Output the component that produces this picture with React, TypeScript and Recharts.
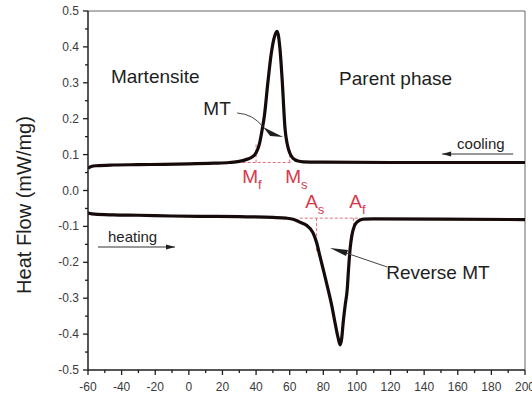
import React from 'react';
import { LineChart, Line, XAxis, YAxis, ReferenceLine, ReferenceDot } from 'recharts';

// DSC scan on cooling (upper curve): temperature (°C) and heat flow (mW/mg)
const coolingTemp = [-60, -58, -55, -45, -30, -15, 0, 15, 24, 30, 34, 37.6, 40, 42, 43.6, 45, 47, 49, 50.5, 52.5, 54.3, 55.5, 57.3, 58.5, 60, 61.4, 63, 65, 68, 80, 120, 160, 200];
const coolingFlow = [0.062, 0.067, 0.069, 0.071, 0.072, 0.073, 0.074, 0.076, 0.078, 0.081, 0.086, 0.093, 0.105, 0.13, 0.169, 0.21, 0.3, 0.38, 0.42, 0.443, 0.39, 0.31, 0.169, 0.13, 0.105, 0.093, 0.086, 0.082, 0.08, 0.079, 0.078, 0.078, 0.078];

// DSC scan on heating (lower curve)
const heatingTemp = [-60, -56, -45, -30, -10, 10, 30, 50, 58, 62, 66, 70, 73.9, 76, 78.1, 80.5, 82.9, 85, 87, 88.8, 90, 91, 91.8, 93, 94.2, 95, 96, 97, 98.5, 100, 103.7, 110, 150, 200];
const heatingFlow = [-0.063, -0.066, -0.068, -0.069, -0.071, -0.072, -0.073, -0.075, -0.077, -0.08, -0.088, -0.097, -0.118, -0.145, -0.185, -0.23, -0.277, -0.32, -0.369, -0.41, -0.43, -0.41, -0.369, -0.32, -0.277, -0.22, -0.16, -0.125, -0.099, -0.088, -0.08, -0.079, -0.08, -0.081];

// axis ticks
const xMajorTicks = [-60, -40, -20, 0, 20, 40, 60, 80, 100, 120, 140, 160, 180, 200];
const xMinorTicks = [-50, -30, -10, 10, 30, 50, 70, 90, 110, 130, 150, 170, 190];
const yMajorTicks = [-0.5, -0.4, -0.3, -0.2, -0.1, 0, 0.1, 0.2, 0.3, 0.4, 0.5];
const yMinorTicks = [-0.45, -0.35, -0.25, -0.15, -0.05, 0.05, 0.15, 0.25, 0.35, 0.45];

// transformation temperatures and the baselines they are read from
const Mf = 40;
const Ms = 60;
const As = 76;
const Af = 98;
const coolBase = 0.078;
const heatBase = -0.077;

const coolingData = coolingTemp.map((t, i) => ({ t, v: coolingFlow[i] }));
const heatingData = heatingTemp.map((t, i) => ({ t, v: heatingFlow[i] }));
const xTicks = [...xMajorTicks, ...xMinorTicks].sort((a, b) => a - b);
const yTicks = [...yMajorTicks, ...yMinorTicks].sort((a, b) => a - b);

const FONT = '"Liberation Sans", Arial, sans-serif';
const INK = '#1e1e1e';
const RED = '#d8384a';
const RED_LINE = '#e2707c';
const CURVE = '#160a0a';

const XTick = (props: any) => {
  const { x, y, payload } = props;
  const v = payload.value;
  const major = v % 20 === 0;
  return (
    <g>
      <line x1={x} x2={x} y1={y} y2={y + (major ? 5 : 3)} stroke={INK} strokeWidth={1.3} />
      {major && (
        <text x={x} y={y + 21} textAnchor="middle" fontSize={12} fontFamily={FONT} fill="#3a3a3a">
          {v}
        </text>
      )}
    </g>
  );
};

const YTick = (props: any) => {
  const { x, y, payload } = props;
  const v = payload.value;
  const major = Math.abs(Math.round(v * 20)) % 2 === 0;
  return (
    <g>
      <line x1={x - (major ? 5 : 3)} x2={x} y1={y} y2={y} stroke={INK} strokeWidth={1.3} />
      {major && (
        <text x={x - 9} y={y + 4} textAnchor="end" fontSize={12} fontFamily={FONT} fill="#3a3a3a">
          {v.toFixed(1)}
        </text>
      )}
    </g>
  );
};

const textShape = (label: string, size: number, anchor: string = 'middle') => (p: any) => (
  <text x={p.cx} y={p.cy} textAnchor={anchor} fontSize={size} fontFamily={FONT} fill={INK}>
    {label}
  </text>
);

const subLabel = (main: string, sub: string) => (p: any) => (
  <text x={p.cx} y={p.cy} fontSize={19} fontFamily={FONT} fill={RED}>
    {main}
    <tspan fontSize={13} dy={6}>{sub}</tspan>
  </text>
);

// leader with a wedge pointing to the exothermic peak
const mtLeader = (p: any) => {
  const { cx, cy } = p;
  return (
    <g>
      <path d={`M${cx - 46},${cy - 24} Q${cx - 30},${cy - 23} ${cx - 20},${cy - 10}`} fill="none" stroke="#444" strokeWidth={1} />
      <polygon points={`${cx - 20},${cy - 10} ${cx},${cy} ${cx - 13},${cy - 1}`} fill={INK} />
    </g>
  );
};

// leader with a wedge pointing to the endothermic peak
const reverseLeader = (p: any) => {
  const { cx, cy } = p;
  return (
    <g>
      <line x1={cx + 16} y1={cy + 5} x2={cx + 57} y2={cy + 19} stroke="#444" strokeWidth={1} />
      <polygon points={`${cx},${cy} ${cx + 18},${cy + 2} ${cx + 16},${cy + 8}`} fill={INK} />
    </g>
  );
};

const arrowNote = (label: string, dir: 'left' | 'right') => (p: any) => {
  const { cx, cy } = p;
  const x1 = dir === 'left' ? cx - 15 : cx - 10;
  const x2 = dir === 'left' ? cx + 56 : cx + 67;
  const head = dir === 'left'
    ? `${x1},${cy + 5} ${x1 + 9},${cy + 2.5} ${x1 + 9},${cy + 7.5}`
    : `${x2},${cy + 5} ${x2 - 9},${cy + 2.5} ${x2 - 9},${cy + 7.5}`;
  return (
    <g>
      <text x={cx} y={cy} fontSize={15} fontFamily={FONT} fill={INK}>{label}</text>
      <line x1={x1} y1={cy + 5} x2={x2} y2={cy + 5} stroke="#333" strokeWidth={1.2} />
      <polygon points={head} fill={INK} />
    </g>
  );
};

const dashed = { stroke: RED_LINE, strokeWidth: 1, strokeDasharray: '3 2', ifOverflow: 'visible' as const };

export default function App() {
  return (
    <div style={{ position: 'absolute', left: 0, top: 0 }}>
      <LineChart width={532} height={394} margin={{ top: 11, right: 7, bottom: 0, left: 28 }}>
        <XAxis
          type="number"
          dataKey="t"
          domain={[-60, 200]}
          ticks={xTicks}
          interval={0}
          tickSize={0}
          tickMargin={0}
          tickLine={false}
          tick={<XTick />}
          height={24}
          allowDataOverflow
          axisLine={{ stroke: INK, strokeWidth: 1.5 }}
        />
        <YAxis
          type="number"
          dataKey="v"
          domain={[-0.5, 0.5]}
          ticks={yTicks}
          interval={0}
          tickSize={0}
          tickMargin={0}
          tickLine={false}
          tick={<YTick />}
          width={60}
          allowDataOverflow
          axisLine={{ stroke: INK, strokeWidth: 1.5 }}
          label={{
            content: () => (
              <text
                transform="translate(24,205) rotate(-90)"
                textAnchor="middle"
                dominantBaseline="central"
                fontSize={20}
                fontFamily={FONT}
                fill={INK}
              >
                Heat Flow (mW/mg)
              </text>
            ),
          }}
        />
        {/* frame */}
        <ReferenceLine y={0.5} stroke="#666" strokeWidth={1} ifOverflow="visible" />
        <ReferenceLine x={200} stroke="#666" strokeWidth={1} ifOverflow="visible" />

        {/* transformation temperature construction lines */}
        <ReferenceLine segment={[{ x: 32, y: coolBase }, { x: 61.5, y: coolBase }]} {...dashed} />
        <ReferenceLine segment={[{ x: Mf, y: coolBase }, { x: Mf, y: 0.13 }]} {...dashed} />
        <ReferenceLine segment={[{ x: Ms, y: coolBase }, { x: Ms, y: 0.115 }]} {...dashed} />
        <ReferenceLine segment={[{ x: 66, y: heatBase }, { x: 101, y: heatBase }]} {...dashed} />
        <ReferenceLine segment={[{ x: As, y: heatBase }, { x: As, y: -0.17 }]} {...dashed} />
        <ReferenceLine segment={[{ x: Af, y: heatBase }, { x: Af, y: -0.12 }]} {...dashed} />

        <Line data={coolingData} dataKey="v" type="monotone" stroke={CURVE} strokeWidth={3.2} dot={false} isAnimationActive={false} />
        <Line data={heatingData} dataKey="v" type="monotone" stroke={CURVE} strokeWidth={3.2} dot={false} isAnimationActive={false} />

        {/* text annotations */}
        <ReferenceDot x={-20} y={0.3} r={0} shape={textShape('Martensite', 19)} />
        <ReferenceDot x={123} y={0.294} r={0} shape={textShape('Parent phase', 19)} />
        <ReferenceDot x={16.8} y={0.21} r={0} shape={textShape('MT', 19)} />
        <ReferenceDot x={56.1} y={0.149} r={0} shape={mtLeader} />
        <ReferenceDot x={117.4} y={-0.2465} r={0} shape={textShape('Reverse MT', 19, 'start')} />
        <ReferenceDot x={84} y={-0.16} r={0} shape={reverseLeader} />
        <ReferenceDot x={159.6} y={0.1156} r={0} shape={arrowNote('cooling', 'left')} />
        <ReferenceDot x={-48.1} y={-0.1435} r={0} shape={arrowNote('heating', 'right')} />

        <ReferenceDot x={31.7} y={0.021} r={0} shape={subLabel('M', 'f')} />
        <ReferenceDot x={57.3} y={0.021} r={0} shape={subLabel('M', 's')} />
        <ReferenceDot x={69.2} y={-0.0487} r={0} shape={subLabel('A', 's')} />
        <ReferenceDot x={95.4} y={-0.0487} r={0} shape={subLabel('A', 'f')} />
      </LineChart>
    </div>
  );
}
